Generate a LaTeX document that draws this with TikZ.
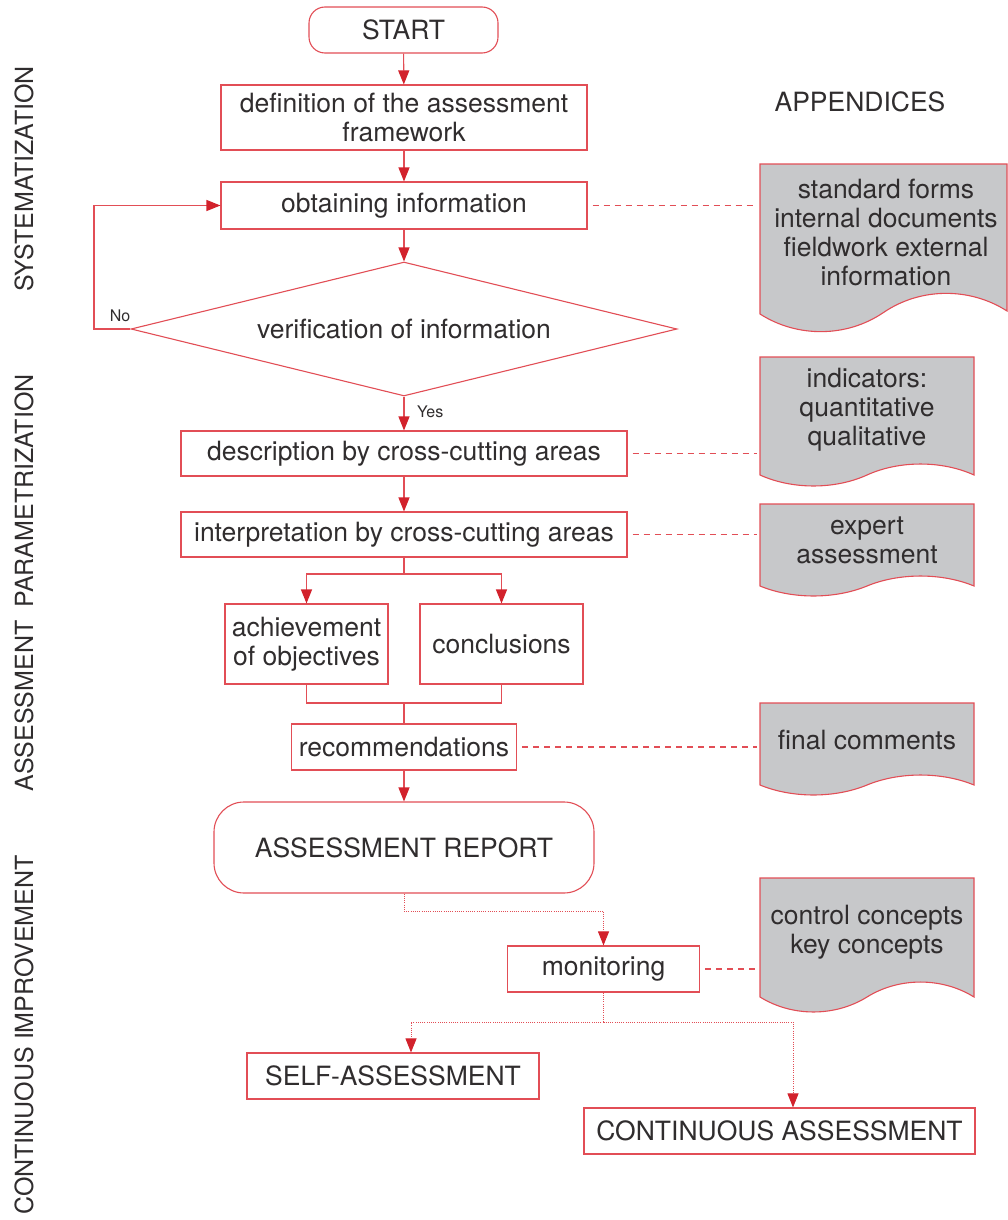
\documentclass[tikz,border=0pt]{standalone}
\usepackage{fontspec}
\setmainfont{TeX Gyre Heros}
\usetikzlibrary{arrows.meta,shapes.geometric,calc}

\definecolor{lnred}{RGB}{226,78,86}
\definecolor{tipred}{RGB}{210,34,44}
\definecolor{docgray}{RGB}{199,200,202}
\definecolor{ink}{RGB}{48,45,46}

\newcommand{\fsmain}{\fontsize{26.5pt}{28.5pt}\selectfont}
\newcommand{\fsdoc}{\fontsize{26.5pt}{29pt}\selectfont}
\newcommand{\fsside}{\fontsize{25pt}{27pt}\selectfont}
\newcommand{\fssmall}{\fontsize{16pt}{18pt}\selectfont}

% document symbol with a wavy lower edge:
% #1 left x, #2 right x, #3 top y, #4 left corner y, #5 right corner y, #6 wave amplitude
\newcommand{\docshape}[6]{%
  \path[docline] (#1,#3) -- (#2,#3) -- (#2,#5)
    .. controls ({#2-0.15*(#2-#1)},{(#4+#5)/2-1.33*#6}) and ({#2-0.35*(#2-#1)},{(#4+#5)/2-1.33*#6}) .. ({(#1+#2)/2},{(#4+#5)/2})
    .. controls ({#2-0.65*(#2-#1)},{(#4+#5)/2+1.33*#6}) and ({#2-0.85*(#2-#1)},{(#4+#5)/2+1.33*#6}) .. (#1,#4) -- cycle;}

\tikzset{
  box/.style={draw=lnred, line width=1.1pt, fill=white, text=ink, font=\fsmain, align=center, inner sep=0pt},
  term/.style={box, rounded corners=16pt},
  flow/.style={draw=lnred, line width=1.1pt},
  arr/.style={flow, -{Triangle[length=14pt,width=11pt,color=tipred]}},
  dotflow/.style={draw=lnred, line width=0.9pt, dash pattern=on 1pt off 1.2pt},
  dotarr/.style={dotflow, -{Triangle[length=14pt,width=11pt,color=tipred]}},
  link/.style={draw=lnred, line width=1.6pt, dash pattern=on 6pt off 5pt, shorten <=5pt, shorten >=3pt},
  docline/.style={draw=lnred, line width=1.1pt, fill=docgray},
  doctext/.style={text=ink, font=\fsdoc, align=center, inner sep=0pt},
  side/.style={text=ink, font=\fsside, rotate=90, inner sep=0pt},
  small/.style={text=ink, font=\fssmall, inner sep=0pt}
}

\begin{document}
\begin{tikzpicture}[x=1pt,y=-1pt]
\useasboundingbox (0,0) rectangle (1008,1220);

% phase labels
\node[side] (ph1) at (24,179) {SYSTEMATIZATION};
\node[side] (ph2) at (24,491) {PARAMETRIZATION};
\node[side] (ph3) at (24,706) {ASSESSMENT};
\node[side] (ph4) at (24,1035) {CONTINUOUS IMPROVEMENT};

% main flow
\node[term, minimum width=189pt, minimum height=46pt] (start) at (403.5,30) {START};
\node[box, minimum width=366pt, minimum height=65pt] (def) at (404,117.5) {definition of the assessment\\framework};
\node[box, minimum width=366pt, minimum height=47pt] (obt) at (404,205.5) {obtaining information};
\node[box, shape=diamond, aspect=4.07, minimum width=546pt, minimum height=134pt] (ver) at (404,329) {verification of information};
\node[box, minimum width=446pt, minimum height=45pt] (des) at (404,453.5) {description by cross-cutting areas};
\node[box, minimum width=446pt, minimum height=45pt] (int) at (404,534.5) {interpretation by cross-cutting areas};
\node[box, minimum width=163pt, minimum height=80pt] (ach) at (306.5,644) {achievement\\of objectives};
\node[box, minimum width=163pt, minimum height=80pt] (con) at (501.5,644) {conclusions};
\node[box, minimum width=225pt, minimum height=46pt] (rec) at (404,747) {recommendations};
\node[term, rounded corners=30pt, minimum width=380pt, minimum height=91pt] (rep) at (404,847.5) {ASSESSMENT REPORT};
\node[box, minimum width=192pt, minimum height=46pt] (mon) at (603.5,969) {monitoring};
\node[box, minimum width=292pt, minimum height=46pt] (sa) at (393,1076) {SELF-ASSESSMENT};
\node[box, minimum width=391pt, minimum height=46pt] (ca) at (779.5,1131) {CONTINUOUS ASSESSMENT};

% appendices
\node[text=ink, font=\fsmain, inner sep=0pt] (app) at (860,102) {APPENDICES};
\docshape{760}{1007}{164}{314}{311}{19}
\docshape{760}{974}{357}{475}{475}{11}
\docshape{760}{974}{504}{586}{586}{10}
\docshape{760}{974}{703}{785}{785}{10}
\docshape{760}{974}{878}{997}{997}{15}
\node[doctext] (d1) at (886,232.5) {standard forms\\internal documents\\fieldwork external\\information};
\node[doctext] (d2) at (867,410) {indicators:\\quantitative\\qualitative};
\node[doctext] (d3) at (867,540.5) {expert\\assessment};
\node[doctext] (d4) at (867,740) {final comments};
\node[doctext] (d5) at (867,932.5) {control concepts\\key concepts};

% connectors
\draw[arr] (start) -- (def);
\draw[arr] (def) -- (obt);
\draw[arr] (obt) -- (ver.north);
\draw[arr] (ver.south) -- (des.north);
\node[small, anchor=west] (yes) at (417,412) {Yes};
\coordinate (loopx) at (94,0);
\draw[arr] (ver.west) -- (ver.west -| loopx) |- (obt.west);
\node[small] (no) at (120,316) {No};
\draw[arr] (des) -- (int);
\coordinate (br) at (404,574);
\draw[flow] (int.south) -- (br);
\draw[arr] (br) -| (ach.north);
\draw[arr] (br) -| (con.north);
\coordinate (mg) at (404,703);
\draw[flow] (ach.south) |- (mg);
\draw[flow] (con.south) |- (mg);
\draw[flow] (mg) -- (rec.north);
\draw[arr] (rec) -- (rep);

\coordinate (rj) at (404,911);
\draw[dotflow] (rep.south) -- (rj);
\draw[dotarr] (rj) -| (mon.north);
\coordinate (mj) at (603.5,1022);
\draw[dotflow] (mon.south) -- (mj);
\coordinate (saT) at ($(sa.north)+(18,0)$);
\coordinate (caT) at ($(ca.north)+(13.5,0)$);
\draw[dotarr] (mj) -| (saT);
\draw[dotarr] (mj) -| (caT);

% links to appendices
\coordinate (dl) at (760,0);
\draw[link] (obt.east) -- (obt.east -| dl);
\draw[link] (des.east) -- (des.east -| dl);
\draw[link] (int.east) -- (int.east -| dl);
\draw[link] (rec.east) -- (rec.east -| dl);
\draw[link] (mon.east) -- (mon.east -| dl);
\end{tikzpicture}
\end{document}
